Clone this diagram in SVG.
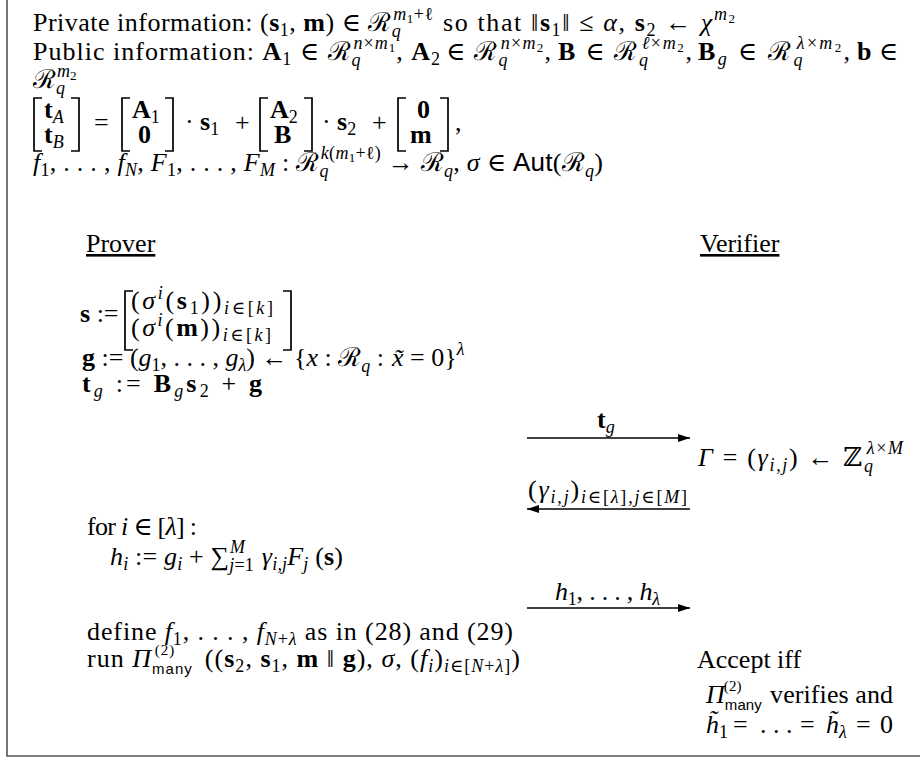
<svg xmlns="http://www.w3.org/2000/svg" width="920" height="758" viewBox="0 0 920 758">
<style>
.t{font-family:"Liberation Serif","DejaVu Serif",serif;font-size:26px;fill:#000}
.s{font-size:18px}
.ss{font-size:13px}
.b{font-weight:bold}
.i{font-style:italic}
.sf{font-family:"Liberation Sans","DejaVu Sans",sans-serif}
.br{fill:none;stroke:#000;stroke-width:1.7}
.ar{stroke:#000;stroke-width:1.3;fill:none}
.fr{stroke:#555;stroke-width:1.6;fill:none}
</style>
<defs>
<marker id="ah" markerUnits="userSpaceOnUse" markerWidth="12" markerHeight="8" refX="12" refY="4" orient="auto">
<path d="M0,0 L12,4 L0,8 z" fill="#000"/>
</marker>
</defs>
<rect width="920" height="758" fill="#fff"/>
<path class="fr" d="M7,0 V756 H920"/>

<g id="header">
<text class="t" x="33" y="31" textLength="400" lengthAdjust="spacing">Private information: (<tspan class="b">s</tspan><tspan class="s" y="36">1</tspan><tspan y="31">, </tspan><tspan class="b">m</tspan><tspan>) ∈ ℛ</tspan><tspan class="s i" y="37">q</tspan><tspan class="s i" dx="-8" y="20">m</tspan><tspan class="ss" y="23">1</tspan><tspan class="s" y="20">+ℓ</tspan></text>
<text class="t" x="443" y="31" textLength="292" lengthAdjust="spacing">so that ‖<tspan class="b">s</tspan><tspan class="s" y="36">1</tspan><tspan y="31">‖ ≤ </tspan><tspan class="i">α</tspan><tspan>, </tspan><tspan class="b">s</tspan><tspan class="s" y="36">2</tspan><tspan y="31"> ← </tspan><tspan class="i">χ</tspan><tspan class="s i" y="20">m</tspan><tspan class="ss" y="23">2</tspan></text>

<text class="t" x="33" y="60" textLength="407" lengthAdjust="spacing">Public information: <tspan class="b">A</tspan><tspan class="s" y="65">1</tspan><tspan y="60"> ∈ ℛ</tspan><tspan class="s i" y="66">q</tspan><tspan class="s i" dx="-8" y="49">n</tspan><tspan class="s">×</tspan><tspan class="s i">m</tspan><tspan class="ss" y="52">1</tspan><tspan y="60">, </tspan><tspan class="b">A</tspan><tspan class="s" y="65">2</tspan></text>
<text class="t" x="446" y="60" textLength="105" lengthAdjust="spacing">∈ ℛ<tspan class="s i" y="66">q</tspan><tspan class="s i" dx="-8" y="49">n</tspan><tspan class="s">×</tspan><tspan class="s i">m</tspan><tspan class="ss" y="52">2</tspan><tspan y="60">,</tspan></text>
<text class="t" x="558" y="60" textLength="134" lengthAdjust="spacing"><tspan class="b">B</tspan> ∈ ℛ<tspan class="s i" y="66">q</tspan><tspan class="s i" dx="-8" y="49">ℓ</tspan><tspan class="s">×</tspan><tspan class="s i">m</tspan><tspan class="ss" y="52">2</tspan><tspan y="60">,</tspan></text>
<text class="t" x="698" y="60" textLength="152" lengthAdjust="spacing"><tspan class="b">B</tspan><tspan class="s i" y="65">g</tspan><tspan y="60"> ∈ ℛ</tspan><tspan class="s i" y="66">q</tspan><tspan class="s i" dx="-8" y="49">λ</tspan><tspan class="s">×</tspan><tspan class="s i">m</tspan><tspan class="ss" y="52">2</tspan><tspan y="60">,</tspan></text>
<text class="t" x="857" y="60" textLength="41" lengthAdjust="spacing"><tspan class="b">b</tspan> ∈</text>

<text class="t" x="33" y="88">ℛ<tspan class="s i" y="94">q</tspan><tspan class="s i" dx="-8" y="77">m</tspan><tspan class="ss" y="80">2</tspan></text>

<path class="br" d="M42,98 H34 V151 H42 M71,98 H79 V151 H71 M130,98 H122 V151 H130 M165,98 H173 V151 H165 M268,98 H260 V151 H268 M304,98 H312 V151 H304 M406,98 H398 V151 H406 M440,98 H448 V151 H440"/>
<text class="t"><tspan x="44" y="118" class="b">t</tspan><tspan class="s i" y="123">A</tspan><tspan x="44" y="143" class="b">t</tspan><tspan class="s i" y="148">B</tspan><tspan x="94" y="131">=</tspan><tspan x="132" y="118" class="b">A</tspan><tspan class="s" y="123">1</tspan><tspan x="138" y="143" class="b">0</tspan><tspan x="185" y="130">·</tspan><tspan x="200" class="b">s</tspan><tspan class="s" y="135">1</tspan><tspan x="235" y="131">+</tspan><tspan x="270" y="118" class="b">A</tspan><tspan class="s" y="123">2</tspan><tspan x="274" y="143" class="b">B</tspan><tspan x="322" y="130">·</tspan><tspan x="337" class="b">s</tspan><tspan class="s" y="135">2</tspan><tspan x="372" y="131">+</tspan><tspan x="417" y="118" class="b">0</tspan><tspan x="410" y="143" class="b">m</tspan><tspan x="455" y="131">,</tspan></text>

<text class="t" x="33" y="171" textLength="570" lengthAdjust="spacing"><tspan class="i">f</tspan><tspan class="s" y="176">1</tspan><tspan y="171">, . . . , </tspan><tspan class="i">f</tspan><tspan class="s i" y="176">N</tspan><tspan y="171">, </tspan><tspan class="i">F</tspan><tspan class="s" y="176">1</tspan><tspan y="171">, . . . , </tspan><tspan class="i">F</tspan><tspan class="s i" y="176">M</tspan><tspan y="171"> : ℛ</tspan><tspan class="s i" y="177">q</tspan><tspan class="s i" dx="-8" y="159">k</tspan><tspan class="s">(</tspan><tspan class="s i">m</tspan><tspan class="ss" y="162">1</tspan><tspan class="s" y="159">+ℓ)</tspan><tspan y="171"> → ℛ</tspan><tspan class="s i" y="177">q</tspan><tspan y="171">, </tspan><tspan class="i">σ</tspan><tspan> ∈ </tspan><tspan class="sf">Aut</tspan><tspan>(ℛ</tspan><tspan class="s i" y="177">q</tspan><tspan y="171">)</tspan></text>
</g>

<g id="prover-label"><text class="t" x="86" y="252" text-decoration="underline">Prover</text></g>
<g id="verifier-label"><text class="t" x="700" y="252" text-decoration="underline">Verifier</text></g>

<g id="prover-commit">
<path class="br" d="M133,291 H125 V350 H133 M283,291 H291 V350 H283"/>
<text class="t" x="80" y="322"><tspan class="b">s</tspan> :=</text>
<text class="t" x="131" y="309" textLength="142" lengthAdjust="spacing">(<tspan class="i">σ</tspan><tspan class="s i" y="299">i</tspan><tspan y="309">(</tspan><tspan class="b">s</tspan><tspan class="s" y="314">1</tspan><tspan y="309">))</tspan><tspan class="s i" y="314">i</tspan><tspan class="s">∈[</tspan><tspan class="s i">k</tspan><tspan class="s">]</tspan></text>
<text class="t" x="131" y="336" textLength="140" lengthAdjust="spacing">(<tspan class="i">σ</tspan><tspan class="s i" y="326">i</tspan><tspan y="336">(</tspan><tspan class="b">m</tspan><tspan>))</tspan><tspan class="s i" y="341">i</tspan><tspan class="s">∈[</tspan><tspan class="s i">k</tspan><tspan class="s">]</tspan></text>
<text class="t" x="82" y="366" textLength="302" lengthAdjust="spacing"><tspan class="b">g</tspan> := (<tspan class="i">g</tspan><tspan class="s" y="371">1</tspan><tspan y="366">, . . . , </tspan><tspan class="i">g</tspan><tspan class="s i" y="371">λ</tspan><tspan y="366">) ← {</tspan><tspan class="i">x</tspan><tspan> : ℛ</tspan><tspan class="s i" y="372">q</tspan><tspan y="366"> :</tspan></text>
<text class="t" x="392" y="366"><tspan class="i">x̃</tspan> = 0}<tspan class="s i" y="355">λ</tspan></text>
<text class="t" x="82" y="392" textLength="180" lengthAdjust="spacing"><tspan class="b">t</tspan><tspan class="s i" y="397">g</tspan><tspan y="392"> := </tspan><tspan class="b">B</tspan><tspan class="s i" y="397">g</tspan><tspan class="b" y="392">s</tspan><tspan class="s" y="397">2</tspan><tspan y="392"> + </tspan><tspan class="b">g</tspan></text>
</g>

<g id="verifier-challenge">
<text class="t" x="698" y="466" textLength="205" lengthAdjust="spacing"><tspan class="i">Γ</tspan> = (<tspan class="i">γ</tspan><tspan class="s i" y="471">i,j</tspan><tspan y="466">) ← ℤ</tspan><tspan class="s i" y="472">q</tspan><tspan class="s i" dx="-8" y="454">λ</tspan><tspan class="s">×</tspan><tspan class="s i">M</tspan></text>
</g>

<g id="prover-response">
<text class="t" x="87" y="535" textLength="110" lengthAdjust="spacing">for <tspan class="i">i</tspan> ∈ [<tspan class="i">λ</tspan>] :</text>
<text class="t" x="110" y="565" textLength="233" lengthAdjust="spacing"><tspan class="i">h</tspan><tspan class="s i" y="570">i</tspan><tspan y="565"> := </tspan><tspan class="i">g</tspan><tspan class="s i" y="570">i</tspan><tspan y="565"> + ∑</tspan><tspan class="s i" y="571">j</tspan><tspan class="s">=1</tspan><tspan class="s i" dx="-24" y="553">M</tspan><tspan y="565" dx="10"> </tspan><tspan class="i">γ</tspan><tspan class="s i" y="570">i,j</tspan><tspan class="i" y="565">F</tspan><tspan class="s i" y="570">j</tspan><tspan y="565"> (</tspan><tspan class="b">s</tspan><tspan>)</tspan></text>
</g>

<g id="prover-run">
<text class="t" x="87" y="640" textLength="426" lengthAdjust="spacing">define <tspan class="i">f</tspan><tspan class="s" y="645">1</tspan><tspan y="640">, . . . , </tspan><tspan class="i">f</tspan><tspan class="s i" y="645">N</tspan><tspan class="s">+</tspan><tspan class="s i">λ</tspan><tspan y="640"> as in (28) and (29)</tspan></text>
<text class="t" x="87" y="667" textLength="433" lengthAdjust="spacing">run <tspan class="i">Π</tspan><tspan class="sf" font-size="15" y="674">many</tspan><tspan font-size="15" dx="-38" y="655">(2)</tspan><tspan y="667" dx="22"> ((</tspan><tspan class="b">s</tspan><tspan class="s" y="672">2</tspan><tspan y="667">, </tspan><tspan class="b">s</tspan><tspan class="s" y="672">1</tspan><tspan y="667">, </tspan><tspan class="b">m</tspan><tspan> ‖ </tspan><tspan class="b">g</tspan><tspan>), </tspan><tspan class="i">σ</tspan><tspan>, (</tspan><tspan class="i">f</tspan><tspan class="s i" y="672">i</tspan><tspan y="667">)</tspan><tspan class="s i" y="672">i</tspan><tspan class="s">∈[</tspan><tspan class="s i">N</tspan><tspan class="s">+</tspan><tspan class="s i">λ</tspan><tspan class="s">]</tspan><tspan y="667">)</tspan></text>
</g>

<g id="verifier-accept">
<text class="t" x="697" y="668">Accept iff</text>
<text class="t" x="706" y="703" textLength="187" lengthAdjust="spacing"><tspan class="i">Π</tspan><tspan class="sf" font-size="15" y="710">many</tspan><tspan font-size="15" dx="-38" y="691">(2)</tspan><tspan y="703" dx="22"> verifies and</tspan></text>
<text class="t" y="733"><tspan x="706" class="i">h̃</tspan><tspan class="s" y="738">1</tspan><tspan y="733" x="733">=</tspan><tspan x="760">. . .</tspan><tspan x="800">=</tspan><tspan x="826" class="i">h̃</tspan><tspan class="s i" y="738">λ</tspan><tspan y="733" x="856">=</tspan><tspan x="880">0</tspan></text>
</g>

<g id="connectors">
<line class="ar" x1="527" y1="438" x2="690" y2="438" marker-end="url(#ah)"/>
<text class="t" x="597" y="428"><tspan class="b">t</tspan><tspan class="s i" y="433">g</tspan></text>
<line class="ar" x1="690" y1="509" x2="527" y2="509" marker-end="url(#ah)"/>
<text class="t" x="528" y="498" textLength="159" lengthAdjust="spacing">(<tspan class="i">γ</tspan><tspan class="s i" y="503">i,j</tspan><tspan y="498">)</tspan><tspan class="s i" y="503">i</tspan><tspan class="s">∈[</tspan><tspan class="s i">λ</tspan><tspan class="s">],</tspan><tspan class="s i">j</tspan><tspan class="s">∈[</tspan><tspan class="s i">M</tspan><tspan class="s">]</tspan></text>
<line class="ar" x1="527" y1="608" x2="690" y2="608" marker-end="url(#ah)"/>
<text class="t" x="555" y="600" textLength="105" lengthAdjust="spacing"><tspan class="i">h</tspan><tspan class="s" y="605">1</tspan><tspan y="600">, . . . , </tspan><tspan class="i">h</tspan><tspan class="s i" y="605">λ</tspan></text>
</g>
</svg>
